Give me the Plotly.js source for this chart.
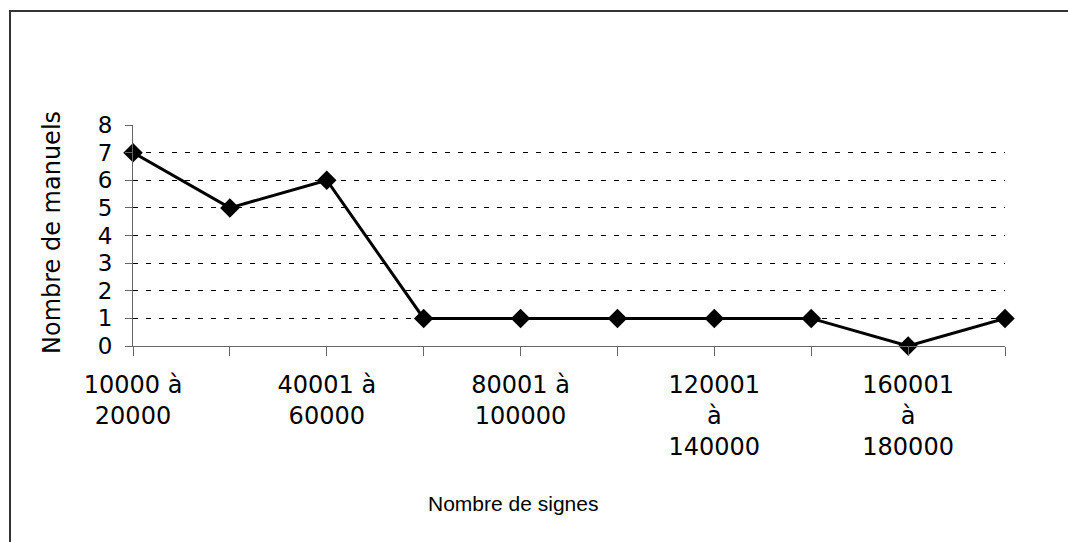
<!DOCTYPE html>
<html>
<head>
<meta charset="utf-8">
<script src="https://cdn.plot.ly/plotly-3.0.1.min.js"></script>
<style>
  html, body { margin: 0; padding: 0; background: #fff; overflow: hidden; }
  #wrap { position: relative; width: 1068px; height: 542px; }
  #chart { position: absolute; left: 0; top: 0; width: 1068px; height: 542px; }
  #frame { position: absolute; left: 9px; top: 10px; width: 1100px; height: 600px;
           border-left: 2px solid #333; border-top: 2px solid #333; pointer-events: none; }
</style>
</head>
<body>
<div id="wrap">
  <div id="chart"></div>
  <div id="frame"></div>
</div>
<script>
const categories = [
  "10000 à 20000", "20001 à 40000", "40001 à 60000", "60001 à 80000",
  "80001 à 100000", "100001 à 120000", "120001 à 140000", "140001 à 160000",
  "160001 à 180000", "180001 à 200000"
];
const manuels = [7, 5, 6, 1, 1, 1, 1, 1, 0, 1];
const yTicks = [0, 1, 2, 3, 4, 5, 6, 7, 8];
const xTitle = "Nombre de signes";
const yTitle = "Nombre de manuels";

function wrapLabel(s) {
  const parts = s.split(" ");
  if (s.length > 14) return parts.join("<br>");
  return parts.slice(0, -1).join(" ") + "<br>" + parts[parts.length - 1];
}
const tickText = categories.map((c, i) => (i % 2 === 0 ? wrapLabel(c) : ""));

const font = "DejaVu Sans, Verdana, sans-serif";
const sansFont = "Liberation Sans, Arial, sans-serif";

const trace = {
  x: categories,
  y: manuels,
  type: "scatter",
  mode: "lines+markers",
  line: { color: "#000", width: 3 },
  marker: { symbol: "diamond", size: 15, color: "#000" },
  cliponaxis: false,
  hoverinfo: "skip"
};

const layout = {
  width: 1068,
  height: 542,
  margin: { l: 133, r: 63, t: 125, b: 196, pad: 0 },
  paper_bgcolor: "rgba(0,0,0,0)",
  plot_bgcolor: "rgba(0,0,0,0)",
  showlegend: false,
  font: { family: font, size: 22, color: "#000" },
  xaxis: {
    type: "category",
    categoryorder: "array",
    categoryarray: categories,
    range: [0, categories.length - 1],
    tickmode: "array",
    tickvals: categories,
    ticktext: tickText,
    ticks: "outside",
    ticklen: 9,
    tickcolor: "#666",
    tickwidth: 1,
    showline: true,
    linecolor: "#666",
    linewidth: 1,
    showgrid: false,
    zeroline: false,
    tickangle: 0,
    ticklabelstandoff: 8,
    tickfont: { family: font, size: 24, color: "#000" }
  },
  yaxis: {
    range: [0, 8],
    tickmode: "array",
    tickvals: yTicks,
    ticktext: yTicks.map(String),
    ticks: "outside",
    ticklen: 7,
    tickcolor: "#666",
    tickwidth: 1,
    showline: true,
    linecolor: "#666",
    linewidth: 1,
    showgrid: true,
    gridcolor: "#000",
    gridwidth: 1,
    griddash: "5px,8px",
    zeroline: false,
    ticklabelstandoff: 8,
    tickfont: { family: font, size: 23, color: "#000" }
  },
  annotations: [
    {
      text: xTitle, xref: "paper", yref: "paper",
      x: (513 - 133) / (1005 - 133), y: -(503 - 346) / (346 - 125),
      xanchor: "center", yanchor: "middle", showarrow: false,
      font: { family: sansFont, size: 21, color: "#000" }
    },
    {
      text: yTitle, xref: "paper", yref: "paper",
      x: -(133 - 52) / (1005 - 133), y: (346 - 233) / (346 - 125),
      xanchor: "center", yanchor: "middle", showarrow: false, textangle: -90,
      font: { family: font, size: 24, color: "#000" }
    }
  ]
};

Plotly.newPlot("chart", [trace], layout, { staticPlot: true, displayModeBar: false });
</script>
</body>
</html>
